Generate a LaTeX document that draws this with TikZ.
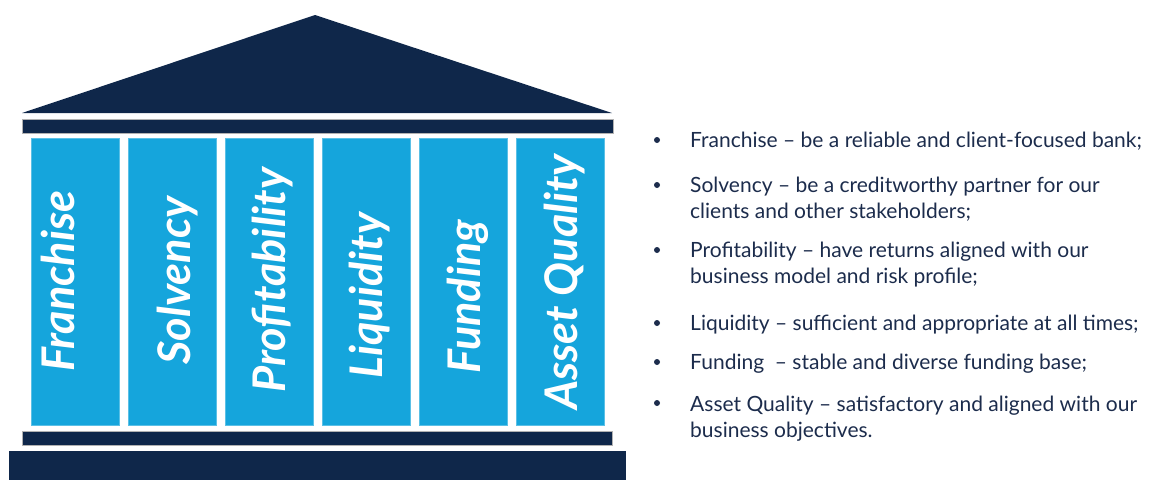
\documentclass[tikz,border=0pt]{standalone}
\usepackage{fontspec}
\setmainfont{Lato}
\definecolor{navy}{HTML}{0F274A}
\definecolor{pillarblue}{HTML}{15A5DC}
\definecolor{textnavy}{HTML}{1C2C4C}
\begin{document}
\begin{tikzpicture}[x=1pt,y=-1pt,
  beam/.style={fill=navy,draw=gray!60,line width=0.6pt},
  pillar/.style={fill=pillarblue,draw=pillarblue!70!white,line width=0.5pt,
    minimum width=88pt,minimum height=287pt,inner sep=0pt,outer sep=0pt},
  pillarlabel/.style={rotate=90,anchor=base,inner sep=0pt,text=white,
    font=\fontsize{45}{45}\selectfont\bfseries\itshape},
  bulletmark/.style={circle,fill=textnavy,inner sep=0pt,minimum size=6pt},
  item/.style={anchor=base west,inner sep=0pt,align=left,text=textnavy,
    font=\fontsize{21}{26}\selectfont}]
\useasboundingbox (0,0) rectangle (1150,480);

% roof, beams and base
\fill[navy] (315,15) -- (612,113) -- (22,113) -- cycle;
\filldraw[beam] (22,119) rectangle (613,133);
\filldraw[beam] (22,431) rectangle (612,445);
\fill[navy] (9,451) rectangle (626,480);

% pillars
\node[pillar] (p1) at (75,281.5) {};
\node[pillar] (p2) at (172,281.5) {};
\node[pillar] (p3) at (269,281.5) {};
\node[pillar] (p4) at (366,281.5) {};
\node[pillar] (p5) at (463,281.5) {};
\node[pillar] (p6) at (560,281.5) {};

\node[pillarlabel] (l1) at (74,281) {Franchise};
\node[pillarlabel] (l2) at (190,280.5) {Solvency};
\node[pillarlabel] (l3) at (285,280) {Profitability};
\node[pillarlabel] (l4) at (382,295.5) {Liquidity};
\node[pillarlabel] (l5) at (480,296.5) {Funding};
\node[pillarlabel] (l6) at (577,282) {Asset Quality};

% bullet list (a multi-line node sits on the baseline of its last line)
\foreach \y [count=\i] in {147,192,257,330,369,410}
  \node[bulletmark] (b\i) at (657,\y-7) {};
\node[item] (t1) at (690,147) {Franchise -- be a reliable and client-focused bank;};
\node[item] (t2) at (690,218) {Solvency -- be a creditworthy partner for our\\clients and other stakeholders;};
\node[item] (t3) at (690,283) {Profitability -- have returns aligned with our\\business model and risk profile;};
\node[item] (t4) at (690,330) {Liquidity -- sufficient and appropriate at all times;};
\node[item] (t5) at (690,369) {Funding\ \ -- stable and diverse funding base;};
\node[item] (t6) at (690,437) {Asset Quality -- satisfactory and aligned with our\\business objectives.};
\end{tikzpicture}
\end{document}
